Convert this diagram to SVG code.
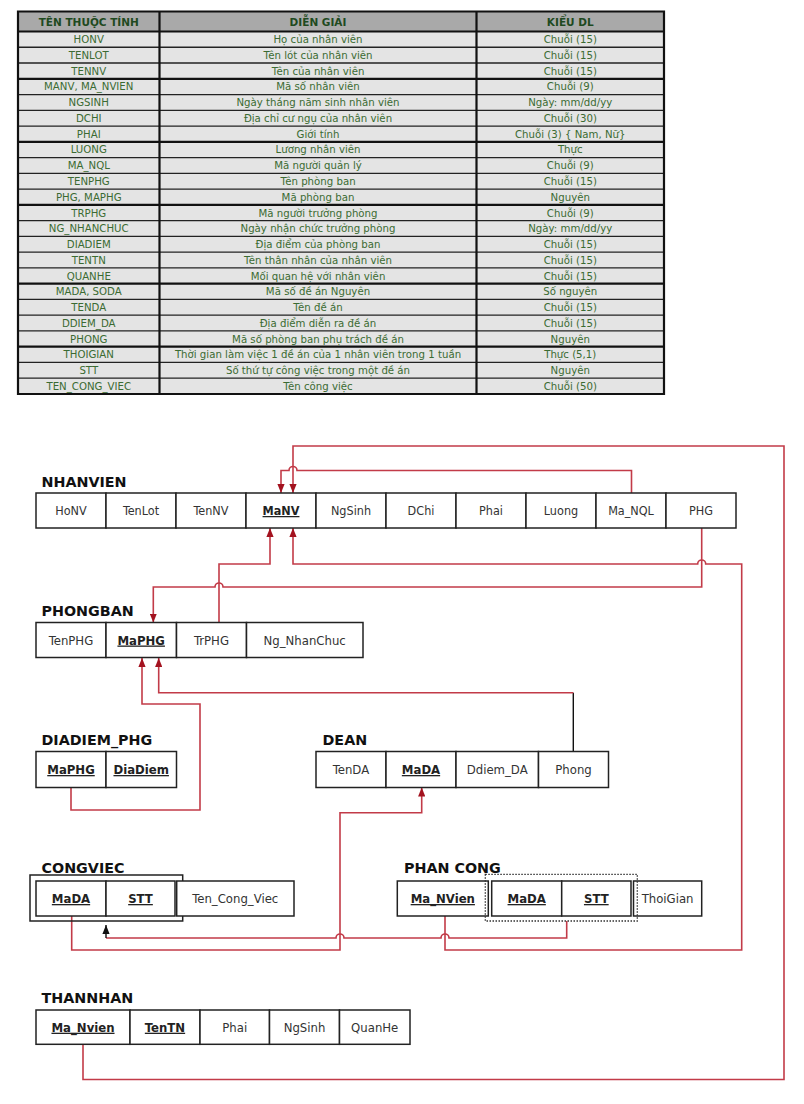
<svg xmlns="http://www.w3.org/2000/svg" width="804" height="1104" viewBox="0 0 804 1104">
<style>
.th{font-family:'DejaVu Sans',sans-serif;font-weight:bold;font-size:10.5px;fill:#1f4a1f;text-anchor:middle}
.td{font-family:'DejaVu Sans',sans-serif;font-size:10.2px;fill:#3b6b32;text-anchor:middle}
.title{font-family:'DejaVu Sans',sans-serif;font-weight:bold;font-size:14.3px;fill:#111}
.cell{fill:#fff;stroke:#222;stroke-width:1.5}
.c{font-family:'DejaVu Sans Condensed','DejaVu Sans',sans-serif;font-stretch:condensed;font-size:13px;fill:#333;text-anchor:middle}
.n{font-size:12.5px}
.k{font-weight:bold;text-decoration:underline;fill:#222}
.rl{fill:none;stroke:#c23b48;stroke-width:1.6}
.bl{fill:none;stroke:#111;stroke-width:1.4}
.grid{fill:none;stroke:#222;stroke-width:1.3}
.thick{fill:none;stroke:#111;stroke-width:2.2}
</style>
<defs>
<marker id="ar" viewBox="0 0 10 8" refX="10" refY="4" markerWidth="9" markerHeight="7.2" orient="auto" markerUnits="userSpaceOnUse"><path d="M0,0 L10,4 L0,8 z" fill="#a3121f"/></marker>
<marker id="ab" viewBox="0 0 10 8" refX="10" refY="4" markerWidth="9" markerHeight="7.2" orient="auto" markerUnits="userSpaceOnUse"><path d="M0,0 L10,4 L0,8 z" fill="#111"/></marker>
</defs>
<rect width="804" height="1104" fill="#fff"/>

<g id="attribute-table">
<rect x="18" y="11.5" width="646" height="20" fill="#a9a9a9"/>
<rect x="18" y="31.5" width="646" height="362.5" fill="#e4e4e4"/>
<path class="grid" d="M18,47.26H664M18,63.02H664M18,94.54H664M18,110.3H664M18,126.06H664M18,157.58H664M18,173.34H664M18,189.1H664M18,220.62H664M18,236.38H664M18,252.14H664M18,267.9H664M18,299.42H664M18,315.18H664M18,330.94H664M18,362.46H664M18,378.22H664"/>
<path class="thick" d="M18,11.5H664V394H18Z M159.5,11.5V394 M476.5,11.5V394 M18,31.5H664 M18,78.78H664 M18,141.82H664 M18,204.86H664 M18,283.66H664 M18,346.7H664"/>
<text class="th" x="88.75" y="25.5">TÊN THUỘC TÍNH</text>
<text class="th" x="318" y="25.5">DIỄN GIẢI</text>
<text class="th" x="570.25" y="25.5">KIỂU DL</text>
<g class="td">
<text x="88.75" y="43.1">HONV</text><text x="318" y="43.1">Họ của nhân viên</text><text x="570.25" y="43.1">Chuỗi (15)</text>
<text x="88.75" y="58.9">TENLOT</text><text x="318" y="58.9">Tên lót của nhân viên</text><text x="570.25" y="58.9">Chuỗi (15)</text>
<text x="88.75" y="74.6">TENNV</text><text x="318" y="74.6">Tên của nhân viên</text><text x="570.25" y="74.6">Chuỗi (15)</text>
<text x="88.75" y="90.4">MANV, MA_NVIEN</text><text x="318" y="90.4">Mã số nhân viên</text><text x="570.25" y="90.4">Chuỗi (9)</text>
<text x="88.75" y="106.1">NGSINH</text><text x="318" y="106.1">Ngày tháng năm sinh nhân viên</text><text x="570.25" y="106.1">Ngày: mm/dd/yy</text>
<text x="88.75" y="121.9">DCHI</text><text x="318" y="121.9">Địa chỉ cư ngụ của nhân viên</text><text x="570.25" y="121.9">Chuỗi (30)</text>
<text x="88.75" y="137.7">PHAI</text><text x="318" y="137.7">Giới tính</text><text x="570.25" y="137.7">Chuỗi (3) { Nam, Nữ}</text>
<text x="88.75" y="153.4">LUONG</text><text x="318" y="153.4">Lương nhân viên</text><text x="570.25" y="153.4">Thực</text>
<text x="88.75" y="169.2">MA_NQL</text><text x="318" y="169.2">Mã người quản lý</text><text x="570.25" y="169.2">Chuỗi (9)</text>
<text x="88.75" y="184.9">TENPHG</text><text x="318" y="184.9">Tên phòng ban</text><text x="570.25" y="184.9">Chuỗi (15)</text>
<text x="88.75" y="200.7">PHG, MAPHG</text><text x="318" y="200.7">Mã phòng ban</text><text x="570.25" y="200.7">Nguyên</text>
<text x="88.75" y="216.5">TRPHG</text><text x="318" y="216.5">Mã người trưởng phòng</text><text x="570.25" y="216.5">Chuỗi (9)</text>
<text x="88.75" y="232.2">NG_NHANCHUC</text><text x="318" y="232.2">Ngày nhận chức trưởng phòng</text><text x="570.25" y="232.2">Ngày: mm/dd/yy</text>
<text x="88.75" y="248">DIADIEM</text><text x="318" y="248">Địa điểm của phòng ban</text><text x="570.25" y="248">Chuỗi (15)</text>
<text x="88.75" y="263.7">TENTN</text><text x="318" y="263.7">Tên thân nhân của nhân viên</text><text x="570.25" y="263.7">Chuỗi (15)</text>
<text x="88.75" y="279.5">QUANHE</text><text x="318" y="279.5">Mối quan hệ với nhân viên</text><text x="570.25" y="279.5">Chuỗi (15)</text>
<text x="88.75" y="295.3">MADA, SODA</text><text x="318" y="295.3">Mã số đề án Nguyên</text><text x="570.25" y="295.3">Số nguyên</text>
<text x="88.75" y="311">TENDA</text><text x="318" y="311">Tên đề án</text><text x="570.25" y="311">Chuỗi (15)</text>
<text x="88.75" y="326.8">DDIEM_DA</text><text x="318" y="326.8">Địa điểm diễn ra đề án</text><text x="570.25" y="326.8">Chuỗi (15)</text>
<text x="88.75" y="342.5">PHONG</text><text x="318" y="342.5">Mã số phòng ban phụ trách đề án</text><text x="570.25" y="342.5">Nguyên</text>
<text x="88.75" y="358.3">THOIGIAN</text><text x="318" y="358.3">Thời gian làm việc 1 đề án của 1 nhân viên trong 1 tuần</text><text x="570.25" y="358.3">Thực (5,1)</text>
<text x="88.75" y="374.1">STT</text><text x="318" y="374.1">Số thứ tự công việc trong một đề án</text><text x="570.25" y="374.1">Nguyên</text>
<text x="88.75" y="389.8">TEN_CONG_VIEC</text><text x="318" y="389.8">Tên công việc</text><text x="570.25" y="389.8">Chuỗi (50)</text>
</g>
</g>

<g id="connectors">
<path class="rl" marker-end="url(#ar)" d="M631.5,493 V470.5 H297 A4,4 0 0 0 289,470.5 H281 V493"/>
<path class="rl" marker-end="url(#ar)" d="M83,1044.3 V1079.5 H784 V446 H293 V493"/>
<path class="rl" marker-end="url(#ar)" d="M219,622.5 V564 H270 V528"/>
<path class="rl" marker-end="url(#ar)" d="M445,916 V950 H741.7 V564 H705.7 A4,4 0 0 0 697.7,564 H293 V528"/>
<path class="rl" marker-end="url(#ar)" d="M701.7,528 V587 H223 A4,4 0 0 0 215,587 H153.3 V622.5"/>
<path class="rl" marker-end="url(#ar)" d="M71,787.5 V810 H200 V704 H142 V658"/>
<path class="bl" d="M573.3,751.5 V692.7"/>
<path class="rl" marker-end="url(#ar)" d="M573.3,692.7 H158.7 V658"/>
<path class="rl" marker-end="url(#ar)" d="M71.7,916 V950 H340 V812.7 H421.7 V787.5"/>
<path class="rl" d="M566.7,921 V938 H449 A4,4 0 0 0 441,938 H344 A4,4 0 0 0 336,938 H106"/>
<path class="bl" marker-end="url(#ab)" d="M106,938 V925"/>
</g>

<g id="NHANVIEN">
<text class="title" x="41.5" y="487">NHANVIEN</text>
<rect class="cell" x="36" y="493" width="70" height="35"/>
<rect class="cell" x="106" y="493" width="70" height="35"/>
<rect class="cell" x="176" y="493" width="70" height="35"/>
<rect class="cell" x="246" y="493" width="70" height="35"/>
<rect class="cell" x="316" y="493" width="70" height="35"/>
<rect class="cell" x="386" y="493" width="70" height="35"/>
<rect class="cell" x="456" y="493" width="70" height="35"/>
<rect class="cell" x="526" y="493" width="70" height="35"/>
<rect class="cell" x="596" y="493" width="70" height="35"/>
<rect class="cell" x="666" y="493" width="70" height="35"/>
<text class="c n" x="71" y="515">HoNV</text>
<text class="c n" x="141" y="515">TenLot</text>
<text class="c n" x="211" y="515">TenNV</text>
<text class="c n k" x="281" y="515">MaNV</text>
<text class="c n" x="351" y="515">NgSinh</text>
<text class="c n" x="421" y="515">DChi</text>
<text class="c n" x="491" y="515">Phai</text>
<text class="c n" x="561" y="515">Luong</text>
<text class="c n" x="631" y="515">Ma_NQL</text>
<text class="c n" x="701" y="515">PHG</text>
</g>

<g id="PHONGBAN">
<text class="title" x="41.5" y="616">PHONGBAN</text>
<rect class="cell" x="36" y="622.5" width="70" height="35"/>
<rect class="cell" x="106" y="622.5" width="70.5" height="35"/>
<rect class="cell" x="176.5" y="622.5" width="70" height="35"/>
<rect class="cell" x="246.5" y="622.5" width="116.5" height="35"/>
<text class="c" x="71" y="644.5">TenPHG</text>
<text class="c k" x="141.2" y="644.5">MaPHG</text>
<text class="c" x="211.5" y="644.5">TrPHG</text>
<text class="c" x="304.7" y="644.5">Ng_NhanChuc</text>
</g>

<g id="DIADIEM_PHG">
<text class="title" x="41.5" y="745">DIADIEM_PHG</text>
<rect class="cell" x="36" y="751.5" width="70" height="36"/>
<rect class="cell" x="106" y="751.5" width="70.5" height="36"/>
<text class="c k" x="71" y="774">MaPHG</text>
<text class="c k" x="141.2" y="774">DiaDiem</text>
</g>

<g id="DEAN">
<text class="title" x="322.5" y="745">DEAN</text>
<rect class="cell" x="316" y="751.5" width="70" height="36"/>
<rect class="cell" x="386" y="751.5" width="70" height="36"/>
<rect class="cell" x="456" y="751.5" width="82.5" height="36"/>
<rect class="cell" x="538.5" y="751.5" width="70" height="36"/>
<text class="c" x="351" y="774">TenDA</text>
<text class="c k" x="421" y="774">MaDA</text>
<text class="c" x="497.2" y="774">Ddiem_DA</text>
<text class="c" x="573.5" y="774">Phong</text>
</g>

<g id="CONGVIEC">
<rect x="30" y="875" width="152.7" height="46" fill="none" stroke="#222" stroke-width="1.5"/>
<rect class="cell" x="36" y="881" width="70" height="35"/>
<rect class="cell" x="106" y="881" width="69" height="35"/>
<rect class="cell" x="176.7" y="881" width="117.3" height="35"/>
<text class="title" x="41.5" y="873">CONGVIEC</text>
<text class="c k" x="71" y="903">MaDA</text>
<text class="c k" x="140.5" y="903">STT</text>
<text class="c" x="235.3" y="903">Ten_Cong_Viec</text>
</g>

<g id="PHAN_CONG">
<rect class="cell" x="397.3" y="881" width="91" height="35"/>
<rect class="cell" x="491.7" y="881" width="70" height="35"/>
<rect class="cell" x="561.7" y="881" width="69.3" height="35"/>
<rect class="cell" x="633.5" y="881" width="68.2" height="35"/>
<rect x="485.3" y="874.3" width="152" height="46.7" fill="none" stroke="#333" stroke-width="1.3" stroke-dasharray="1.5,1.5"/>
<text class="title" x="404" y="873">PHAN CONG</text>
<text class="c k" x="442.8" y="903">Ma_NVien</text>
<text class="c k" x="526.7" y="903">MaDA</text>
<text class="c k" x="596.3" y="903">STT</text>
<text class="c" x="667.6" y="903">ThoiGian</text>
</g>

<g id="THANNHAN">
<text class="title" x="41.5" y="1003">THANNHAN</text>
<rect class="cell" x="36" y="1010" width="94" height="34.3"/>
<rect class="cell" x="130" y="1010" width="70" height="34.3"/>
<rect class="cell" x="200" y="1010" width="69.5" height="34.3"/>
<rect class="cell" x="269.5" y="1010" width="70" height="34.3"/>
<rect class="cell" x="339.5" y="1010" width="70.5" height="34.3"/>
<text class="c k" x="83" y="1031.7">Ma_Nvien</text>
<text class="c k" x="165" y="1031.7">TenTN</text>
<text class="c" x="234.7" y="1031.7">Phai</text>
<text class="c" x="304.5" y="1031.7">NgSinh</text>
<text class="c" x="374.7" y="1031.7">QuanHe</text>
</g>
</svg>
